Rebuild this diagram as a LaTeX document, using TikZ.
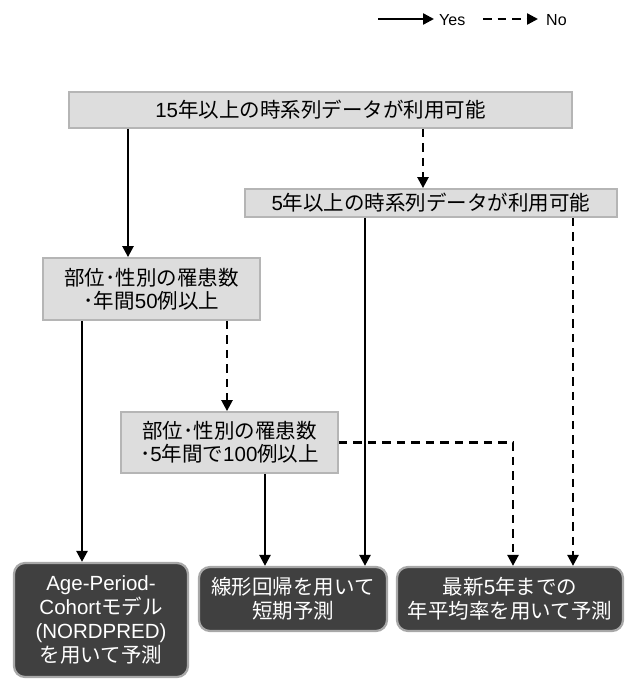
\documentclass[tikz,border=0pt]{standalone}
\usepackage{fontspec}
\setmainfont{Noto Sans CJK JP}
\newfontfamily\latf{Liberation Sans}
\usetikzlibrary{arrows.meta}
\definecolor{boxfill}{HTML}{DDDDDD}
\definecolor{boxedge}{HTML}{B5B5B5}
\definecolor{darkfill}{HTML}{404040}
\definecolor{darkedge}{HTML}{A8A8A8}
\tikzset{
  lbox/.style={draw=boxedge, fill=boxfill, line width=1.8pt, inner sep=0pt, align=center,
    font=\fontsize{20.5}{23}\selectfont},
  dbox/.style={draw=darkedge, fill=darkfill, line width=2.2pt, rounded corners=11pt, inner sep=0pt,
    align=center, text=white, font=\fontsize{20.5}{24}\selectfont},
  yesarrow/.style={line width=2.4pt, -{Triangle[length=11pt,width=11pt]}},
  noarrow/.style={yesarrow, dash pattern=on 8.5pt off 6pt},
  legtext/.style={anchor=west, inner sep=0pt, font=\latf\fontsize{16}{18}\selectfont}
}
\begin{document}
\begin{tikzpicture}[x=1pt,y=-1pt]
\useasboundingbox (0,0) rectangle (624,679);

% boxes
\node[lbox, minimum width=503pt, minimum height=36pt] (top) at (320.5,110)
  {{\latf 15}年以上の時系列データが利用可能};
\node[lbox, minimum width=372pt, minimum height=28pt] (b5) at (431,203)
  {{\latf 5}年以上の時系列データが利用可能};
\node[lbox, minimum width=217pt, minimum height=62pt] (b50) at (151.5,289)
  {部位･性別の罹患数\\･年間{\latf 50}例以上};
\node[lbox, minimum width=217pt, minimum height=61pt] (b100) at (229.5,442.5)
  {部位･性別の罹患数\\･{\latf 5}年間で{\latf 100}例以上};
\node[dbox, minimum width=174pt, minimum height=114pt] (f1) at (101,620)
  {{\latf Age-Period-}\\{\latf Cohort}モデル\\{\latf (NORDPRED)}\\を用いて予測};
\node[dbox, minimum width=188pt, minimum height=64pt] (f2) at (293,599)
  {線形回帰を用いて\\短期予測};
\node[dbox, minimum width=226pt, minimum height=64pt] (f3) at (510,599)
  {最新{\latf 5}年までの\\年平均率を用いて予測};

% x positions of connectors
\coordinate (xa) at (128,0);
\coordinate (xb) at (423,0);
\coordinate (xc) at (82,0);
\coordinate (xd) at (227,0);
\coordinate (xe) at (265,0);
\coordinate (xf) at (365,0);
\coordinate (xg) at (513,0);
\coordinate (xh) at (573,0);

\draw[yesarrow] (top.south -| xa) -- (b50.north -| xa);
\draw[noarrow] (top.south -| xb) -- (b5.north -| xb);
\draw[yesarrow] (b50.south -| xc) -- (f1.north -| xc);
\draw[noarrow] (b50.south -| xd) -- (b100.north -| xd);
\draw[yesarrow] (b100.south -| xe) -- (f2.north -| xe);
\draw[yesarrow] (b5.south -| xf) -- (f2.north -| xf);
\draw[noarrow] (b100.east) -- (b100.east -| xg) -- (f3.north -| xg);
\draw[noarrow] (b5.south -| xh) -- (f3.north -| xh);

% legend
\coordinate (ys) at (378,19);
\coordinate (ye) at (434,19);
\node[legtext] (yeslbl) at (439,20) {Yes};
\coordinate (ns) at (483,19);
\coordinate (ne) at (538,19);
\node[legtext] (nolbl) at (546,20) {No};
\draw[yesarrow] (ys) -- (ye);
\draw[noarrow] (ns) -- (ne);
\end{tikzpicture}
\end{document}
